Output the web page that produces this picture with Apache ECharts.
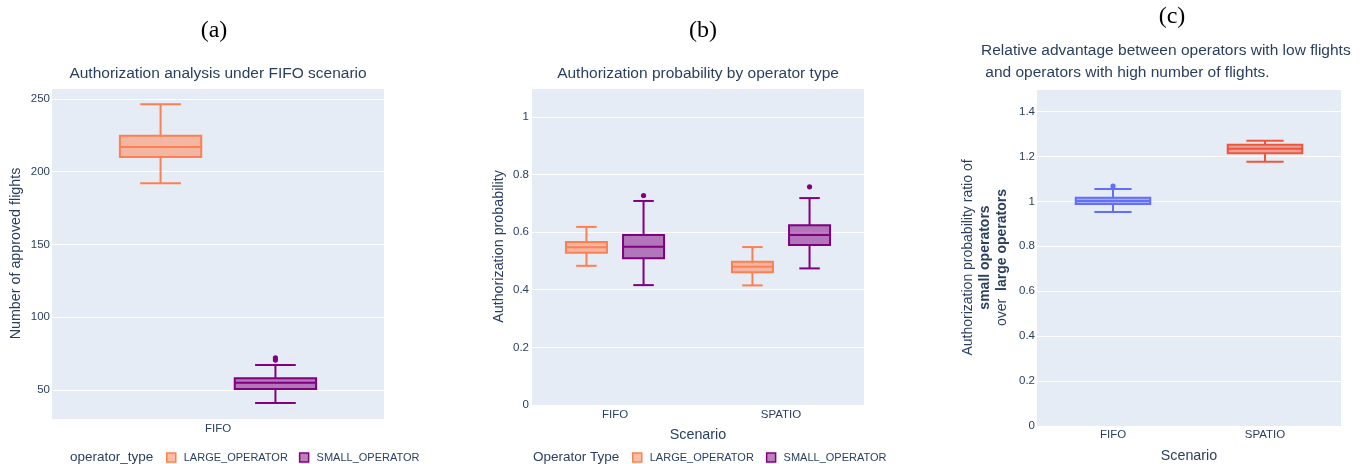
<!DOCTYPE html>
<html><head><meta charset="utf-8">
<script src="https://cdn.jsdelivr.net/npm/echarts@6/dist/echarts.min.js"></script>
<style>html,body{margin:0;padding:0;background:#fff}#c{width:1360px;height:464px}</style>
</head><body><div id="c"></div>
<script>
// ---------- data ----------
const scenariosA = ['FIFO'];
// [min, q1, median, q3, max]
const largeA = [[192, 210, 217, 224.6, 246.4]];
const smallA = [[41, 50.7, 55, 58, 67.2]];
const smallOutA = [[0, 70.5], [0, 72]];

const scenariosB = ['FIFO', 'SPATIO'];
const largeB = [[0.483, 0.528, 0.547, 0.566, 0.618], [0.415, 0.461, 0.48, 0.497, 0.548]];
const smallB = [[0.416, 0.509, 0.549, 0.59, 0.708], [0.474, 0.555, 0.59, 0.624, 0.718]];
const smallOutB = [[0, 0.727], [1, 0.757]];

const scenariosC = ['FIFO', 'SPATIO'];
const ratioFifoC = [[0.952, 0.988, 1.002, 1.016, 1.055]];
const ratioSpatioC = [[1.176, 1.214, 1.234, 1.252, 1.27]];
const ratioOutC = [[0, 1.068]];

// ---------- style ----------
const FONT = '"Liberation Sans", Arial, sans-serif';
const TXT = '#2a3f5f';
const LARGE = '#FF7F50', LARGE_FILL = 'rgba(255,127,80,0.5)';
const SMALL = '#800080', SMALL_FILL = 'rgba(128,0,128,0.5)';
const BLUE = '#636efa', BLUE_FILL = 'rgba(99,110,250,0.5)';
const RED = '#EF553B', RED_FILL = 'rgba(239,85,59,0.5)';

function boxRenderer(offset, width, color, fill, lw) {
  return function (params, api) {
    const ci = api.value(0);
    const band = api.size([1, 0])[0];
    const cx = api.coord([ci, api.value(3)])[0] + offset * band;
    const w = width * band;
    const Y = i => api.coord([ci, api.value(i)])[1];
    const yMin = Y(1), yQ1 = Y(2), yMed = Y(3), yQ3 = Y(4), yMax = Y(5);
    const st = { stroke: color, lineWidth: lw, fill: null };
    return { type: 'group', children: [
      { type: 'rect', shape: { x: cx - w / 2, y: yQ3, width: w, height: yQ1 - yQ3 }, style: { fill: fill, stroke: color, lineWidth: lw } },
      { type: 'line', shape: { x1: cx - w / 2, y1: yMed, x2: cx + w / 2, y2: yMed }, style: st },
      { type: 'line', shape: { x1: cx, y1: yQ3, x2: cx, y2: yMax }, style: st },
      { type: 'line', shape: { x1: cx, y1: yQ1, x2: cx, y2: yMin }, style: st },
      { type: 'line', shape: { x1: cx - w / 4, y1: yMax, x2: cx + w / 4, y2: yMax }, style: st },
      { type: 'line', shape: { x1: cx - w / 4, y1: yMin, x2: cx + w / 4, y2: yMin }, style: st }
    ] };
  };
}
function outRenderer(offset, color) {
  return function (params, api) {
    const ci = api.value(0);
    const band = api.size([1, 0])[0];
    const p = api.coord([ci, api.value(1)]);
    return { type: 'circle', shape: { cx: p[0] + offset * band, cy: p[1], r: 2.6 }, style: { fill: color } };
  };
}
const boxData = arr => arr.map((d, i) => [i].concat(d));
const boxDataAt = (arr, idx) => arr.map(d => [idx].concat(d));

function boxSeries(name, xi, data, offset, width, color, fill) {
  return { type: 'custom', name: name, xAxisIndex: xi, yAxisIndex: xi, data: data,
    encode: { x: 0, y: [1, 2, 3, 4, 5] }, itemStyle: { color: color },
    renderItem: boxRenderer(offset, width, color, fill, 2), clip: false, silent: true };
}
function outSeries(name, xi, data, offset, color) {
  return { type: 'custom', name: name, xAxisIndex: xi, yAxisIndex: xi, data: data,
    encode: { x: 0, y: 1 }, itemStyle: { color: color },
    renderItem: outRenderer(offset, color), clip: false, silent: true };
}

function catAxis(gi, data, margin) {
  return { gridIndex: gi, type: 'category', data: data,
    axisLine: { show: false }, axisTick: { show: false }, splitLine: { show: false },
    axisLabel: { color: TXT, fontFamily: FONT, fontSize: 11.5, margin: margin } };
}
function valAxis(gi, extra) {
  return Object.assign({ gridIndex: gi, type: 'value',
    axisLine: { show: false }, axisTick: { show: false },
    splitLine: { show: true, lineStyle: { color: '#ffffff', width: 1 } },
    nameLocation: 'middle', nameRotate: 90,
    nameTextStyle: { color: TXT, fontFamily: FONT, fontSize: 14.3 } }, extra);
}
const tickLbl = (margin, showMin) => ({ color: TXT, fontFamily: FONT, fontSize: 11.5, showMinLabel: showMin, showMaxLabel: false, margin: margin });

const legendTextStyle = { color: TXT, fontFamily: FONT, fontSize: 11, padding: [0, 0, 0, 3] };
const legendData = [
  { name: 'LARGE_OPERATOR', itemStyle: { color: LARGE_FILL, borderColor: LARGE, borderWidth: 1.5 } },
  { name: 'SMALL_OPERATOR', itemStyle: { color: SMALL_FILL, borderColor: SMALL, borderWidth: 1.5 } }
];
const TITLE_FONT = '15.5px "Liberation Sans", Arial, sans-serif';
const LEG_TITLE_FONT = '13.5px "Liberation Sans", Arial, sans-serif';
const PANEL_FONT = '24px "Liberation Serif", serif';

const option = {
  animation: false,
  textStyle: { fontFamily: FONT },
  grid: [
    { left: 52, right: 976, top: 88, bottom: 45, show: true, backgroundColor: '#E5ECF6', borderWidth: 0, outerBoundsMode: 'none' },
    { left: 532, right: 496, top: 88, bottom: 59, show: true, backgroundColor: '#E5ECF6', borderWidth: 0, outerBoundsMode: 'none' },
    { left: 1037, right: 19, top: 89, bottom: 38, show: true, backgroundColor: '#E5ECF6', borderWidth: 0, outerBoundsMode: 'none' }
  ],
  xAxis: [
    catAxis(0, scenariosA, 4),
    Object.assign(catAxis(1, scenariosB, 4), { name: 'Scenario', nameLocation: 'middle', nameGap: 23,
      nameTextStyle: { color: TXT, fontFamily: FONT, fontSize: 14.3 } }),
    Object.assign(catAxis(2, scenariosC, 3), { name: 'Scenario', nameLocation: 'middle', nameGap: 23,
      nameTextStyle: { color: TXT, fontFamily: FONT, fontSize: 14.3 } })
  ],
  yAxis: [
    valAxis(0, { min: 30, max: 257.5, splitNumber: 5, name: 'Number of approved flights', nameGap: 29,
      axisLabel: tickLbl(2, false) }),
    valAxis(1, { min: 0, max: 1.1, interval: 0.2, name: 'Authorization probability', nameGap: 26,
      axisLabel: tickLbl(3, true) }),
    valAxis(2, { min: 0, max: 1.5, interval: 0.2, nameGap: 26,
      name: 'Authorization probability ratio of\n{b|small operators}\nover  {b|large operators}',
      nameTextStyle: { color: TXT, fontFamily: FONT, fontSize: 14, lineHeight: 17, align: 'center',
        rich: { b: { fontWeight: 'bold', color: TXT, fontFamily: FONT, fontSize: 14, lineHeight: 17 } } },
      axisLabel: tickLbl(2, true) })
  ],
  legend: [
    { left: 166, top: 452, padding: 0, itemWidth: 9, itemHeight: 9, itemGap: 11, icon: 'rect', selectedMode: false,
      textStyle: legendTextStyle, data: legendData },
    { left: 632, top: 452, padding: 0, itemWidth: 9, itemHeight: 9, itemGap: 12, icon: 'rect', selectedMode: false,
      textStyle: legendTextStyle, data: legendData }
  ],
  graphic: [
    { type: 'text', x: 214, y: 31, style: { text: '(a)', fill: '#000', font: PANEL_FONT, textAlign: 'center', textVerticalAlign: 'middle' } },
    { type: 'text', x: 703, y: 31, style: { text: '(b)', fill: '#000', font: PANEL_FONT, textAlign: 'center', textVerticalAlign: 'middle' } },
    { type: 'text', x: 1172, y: 17, style: { text: '(c)', fill: '#000', font: PANEL_FONT, textAlign: 'center', textVerticalAlign: 'middle' } },
    { type: 'text', x: 218, y: 74, style: { text: 'Authorization analysis under FIFO scenario', fill: TXT, font: TITLE_FONT, textAlign: 'center', textVerticalAlign: 'middle' } },
    { type: 'text', x: 698, y: 74, style: { text: 'Authorization probability by operator type', fill: TXT, font: TITLE_FONT, textAlign: 'center', textVerticalAlign: 'middle' } },
    { type: 'text', x: 981, y: 51, style: { text: 'Relative advantage between operators with low flights', fill: TXT, font: TITLE_FONT, textAlign: 'left', textVerticalAlign: 'middle' } },
    { type: 'text', x: 981, y: 73, style: { text: ' and operators with high number of flights.', fill: TXT, font: TITLE_FONT, textAlign: 'left', textVerticalAlign: 'middle' } },
    { type: 'text', x: 70, y: 457, style: { text: 'operator_type', fill: TXT, font: LEG_TITLE_FONT, textAlign: 'left', textVerticalAlign: 'middle' } },
    { type: 'text', x: 533, y: 457, style: { text: 'Operator Type', fill: TXT, font: LEG_TITLE_FONT, textAlign: 'left', textVerticalAlign: 'middle' } }
  ],
  series: [
    boxSeries('LARGE_OPERATOR', 0, boxData(largeA), -0.173, 0.245, LARGE, LARGE_FILL),
    boxSeries('SMALL_OPERATOR', 0, boxData(smallA), 0.173, 0.245, SMALL, SMALL_FILL),
    outSeries('SMALL_OPERATOR', 0, smallOutA, 0.173, SMALL),
    boxSeries('LARGE_OPERATOR', 1, boxData(largeB), -0.172, 0.247, LARGE, LARGE_FILL),
    boxSeries('SMALL_OPERATOR', 1, boxData(smallB), 0.172, 0.247, SMALL, SMALL_FILL),
    outSeries('SMALL_OPERATOR', 1, smallOutB, 0.172, SMALL),
    boxSeries('FIFO', 2, boxDataAt(ratioFifoC, 0), 0, 0.49, BLUE, BLUE_FILL),
    outSeries('FIFO', 2, ratioOutC, 0, BLUE),
    boxSeries('SPATIO', 2, boxDataAt(ratioSpatioC, 1), 0, 0.49, RED, RED_FILL)
  ]
};
const chart = echarts.init(document.getElementById('c'), null, { renderer: 'canvas' });
chart.setOption(option);
</script>
</body></html>
